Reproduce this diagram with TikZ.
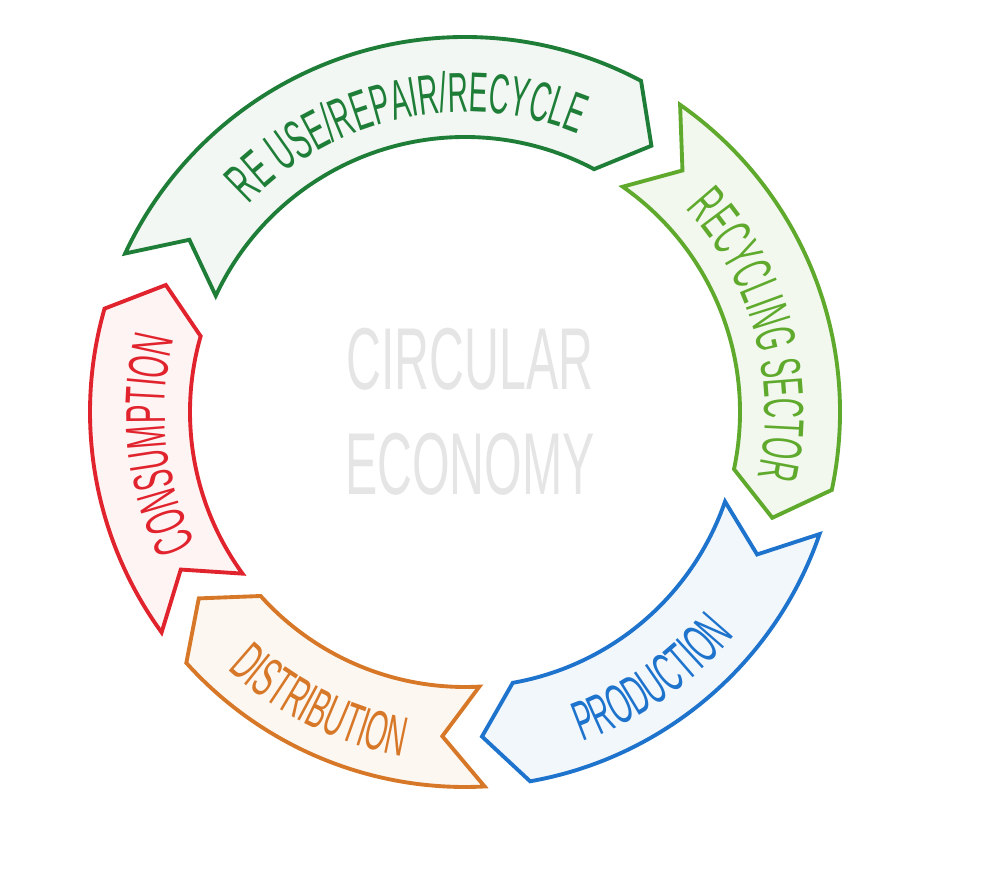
\documentclass[tikz,border=0pt]{standalone}
\usepackage{fontspec}
\setmainfont{Liberation Sans}[FakeStretch=0.55]
\usetikzlibrary{decorations.text}
\newfontfamily\ribbonfont{Liberation Sans}[FakeStretch=0.5]
\newcommand{\ribbon}[4]{%
  \draw[ribbon, draw=#3, fill=#4]
    (#1:7.5) arc (#1:#2:7.5) -- (#2-7:6.5) -- (#2:5.5)
    arc (#2:#1:5.5) -- (#1-7:6.5) -- cycle;}
\definecolor{reusec}{RGB}{30,125,55}
\definecolor{recyc}{RGB}{95,170,45}
\definecolor{prodc}{RGB}{30,115,205}
\definecolor{distc}{RGB}{215,120,40}
\definecolor{consc}{RGB}{225,35,45}

\begin{document}
\begin{tikzpicture}[
    ribbon/.style={line width=2.2pt, line join=miter},
    label/.style={decorate, decoration={text along path, text align=center, text color=#1}}]
  \useasboundingbox (0,0) rectangle (20,17.5);
  \begin{scope}[shift={(9.3,9.26)}]
    \ribbon{155}{62}{reusec}{reusec!6}
    \ribbon{55}{-12}{recyc}{recyc!8}
    \ribbon{-19}{-80}{prodc}{prodc!6}
    \ribbon{-87}{-138}{distc}{distc!6}
    \ribbon{-144}{-196}{consc}{consc!5}
    % labels along the ribbons
    \path[label=reusec, decoration={text={|\ribbonfont\fontsize{32}{32}\selectfont|RE USE/REPAIR/RECYCLE}}]
      (146:6.0) arc (146:58:6.0);
    \path[label=recyc, decoration={text={|\ribbonfont\fontsize{32}{32}\selectfont|RECYCLING SECTOR}}]
      (47:6.0) arc (47:-17:6.0);
    \path[label=prodc, decoration={text={|\ribbonfont\fontsize{32}{32}\selectfont|PRODUCTION}}]
      (-84:7.0) arc (-84:-26:7.0);
    \path[label=distc, decoration={text={|\ribbonfont\fontsize{32}{32}\selectfont|DISTRIBUTION}}]
      (-143:7.0) arc (-143:-90:7.0);
    \path[label=consc, decoration={text={|\ribbonfont\fontsize{32}{32}\selectfont|CONSUMPTION}}]
      (-150:6.0) arc (-150:-198:6.0);
    \node[align=center, text=gray!20, font=\fontsize{50}{60}\selectfont] (title)
      at (0.1,0) {CIRCULAR\\ECONOMY};
  \end{scope}
\end{tikzpicture}
\end{document}
